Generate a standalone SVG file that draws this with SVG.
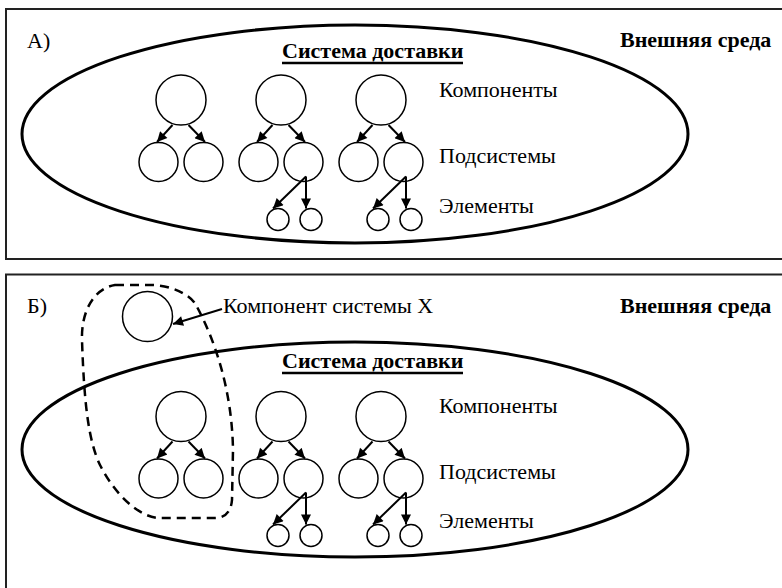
<svg xmlns="http://www.w3.org/2000/svg" width="782" height="588" viewBox="0 0 782 588">
<style>
text{font-family:"Liberation Serif","Times New Roman","DejaVu Serif",serif;font-size:22px;fill:#000}
.b{font-weight:bold}
.ul{stroke:#000;stroke-width:2.5}
.frame{fill:none;stroke:#222;stroke-width:2}
.sys{fill:none;stroke:#000;stroke-width:3}
.c{fill:#fff;stroke:#000;stroke-width:1.5}
.a{fill:none;stroke:#000;stroke-width:2;marker-end:url(#ah)}
.dash{fill:none;stroke:#000;stroke-width:2.5;stroke-dasharray:9 6}
</style>
<defs>
<marker id="ah" viewBox="0 0 10 10" refX="10" refY="5" markerWidth="12" markerHeight="10" markerUnits="userSpaceOnUse" orient="auto">
<path d="M0,0 L10,5 L0,10 Z" fill="#000"/>
</marker>
<g id="tree">
<circle class="c" cx="0" cy="0" r="25"/>
<circle class="c" cx="-22.5" cy="62" r="19.5"/>
<circle class="c" cx="22.5" cy="62" r="19.5"/>
</g>
</defs>
<rect width="782" height="588" fill="#fff"/>

<!-- Panel A -->
<g id="panelA">
<rect class="frame" x="6" y="9" width="800" height="250"/>
<text x="27" y="48">А)</text>
<ellipse id="systemA" class="sys" cx="355" cy="134" rx="333" ry="109"/>
<g id="titleA"><text class="b" x="282" y="58">Система доставки</text>
<line class="ul" x1="282" y1="63" x2="463" y2="63"/></g>
<text id="envA" class="b" x="620" y="47">Внешняя среда</text>
<text id="lblCompA" x="439" y="97">Компоненты</text>
<text id="lblSubA" x="439" y="163">Подсистемы</text>
<text id="lblElA" x="439" y="213">Элементы</text>
<g id="compA1"><use href="#tree" x="181" y="100"/></g>
<g id="compA2"><use href="#tree" x="281" y="100"/>
<circle class="c" cx="278" cy="219.5" r="11"/><circle class="c" cx="311" cy="219.5" r="11"/></g>
<g id="compA3"><use href="#tree" x="381" y="100"/>
<circle class="c" cx="378" cy="219.5" r="11"/><circle class="c" cx="411" cy="219.5" r="11"/></g>
<g id="connA">
<line class="a" x1="172.5" y1="125" x2="157" y2="142"/>
<line class="a" x1="188.5" y1="125" x2="205" y2="142"/>
<line class="a" x1="272.5" y1="125" x2="257" y2="142"/>
<line class="a" x1="288.5" y1="125" x2="305" y2="142"/>
<line class="a" x1="372.5" y1="125" x2="357" y2="142"/>
<line class="a" x1="388.5" y1="125" x2="405" y2="142"/>
<line class="a" x1="306" y1="176.5" x2="273" y2="208.5"/>
<line class="a" x1="306" y1="176.5" x2="306" y2="208.5"/>
<line class="a" x1="406" y1="176.5" x2="373" y2="208.5"/>
<line class="a" x1="406" y1="176.5" x2="406" y2="208.5"/>
</g>
</g>

<!-- Panel B -->
<g id="panelB">
<rect class="frame" x="6" y="274.5" width="800" height="400"/>
<text x="27" y="313">Б)</text>
<ellipse id="systemB" class="sys" cx="355" cy="449.5" rx="333" ry="107.5"/>
<g id="titleB"><text class="b" x="282" y="368">Система доставки</text>
<line class="ul" x1="282" y1="373" x2="463" y2="373"/></g>
<text id="envB" class="b" x="620" y="313">Внешняя среда</text>
<text id="lblX" x="223" y="313">Компонент системы Х</text>
<text id="lblCompB" x="439" y="413">Компоненты</text>
<text id="lblSubB" x="439" y="479">Подсистемы</text>
<text id="lblElB" x="439" y="528">Элементы</text>
<g id="compX"><circle class="c" cx="147.5" cy="316.5" r="25"/></g>
<g id="compB1"><use href="#tree" x="181" y="416.5"/></g>
<g id="compB2"><use href="#tree" x="281" y="416.5"/>
<circle class="c" cx="278" cy="535.5" r="11"/><circle class="c" cx="311" cy="535.5" r="11"/></g>
<g id="compB3"><use href="#tree" x="381" y="416.5"/>
<circle class="c" cx="378" cy="535.5" r="11"/><circle class="c" cx="411" cy="535.5" r="11"/></g>
<path id="groupX" class="dash" d="M115 285 L150 285 C170 285 190 294 196 305 C215 340 232 390 233 450 L232 500 C231 512 225 518 215 518 L160 518 C140 518 115 495 100 465 C88 440 84 400 82 340 C81 310 95 288 115 285 Z"/>
<g id="connB">
<line class="a" x1="222" y1="309" x2="173" y2="324"/>
<line class="a" x1="172.5" y1="441.5" x2="157" y2="458.5"/>
<line class="a" x1="188.5" y1="441.5" x2="205" y2="458.5"/>
<line class="a" x1="272.5" y1="441.5" x2="257" y2="458.5"/>
<line class="a" x1="288.5" y1="441.5" x2="305" y2="458.5"/>
<line class="a" x1="372.5" y1="441.5" x2="357" y2="458.5"/>
<line class="a" x1="388.5" y1="441.5" x2="405" y2="458.5"/>
<line class="a" x1="306" y1="492.5" x2="273" y2="524.5"/>
<line class="a" x1="306" y1="492.5" x2="306" y2="524.5"/>
<line class="a" x1="406" y1="492.5" x2="373" y2="524.5"/>
<line class="a" x1="406" y1="492.5" x2="406" y2="524.5"/>
</g>
</g>
</svg>
